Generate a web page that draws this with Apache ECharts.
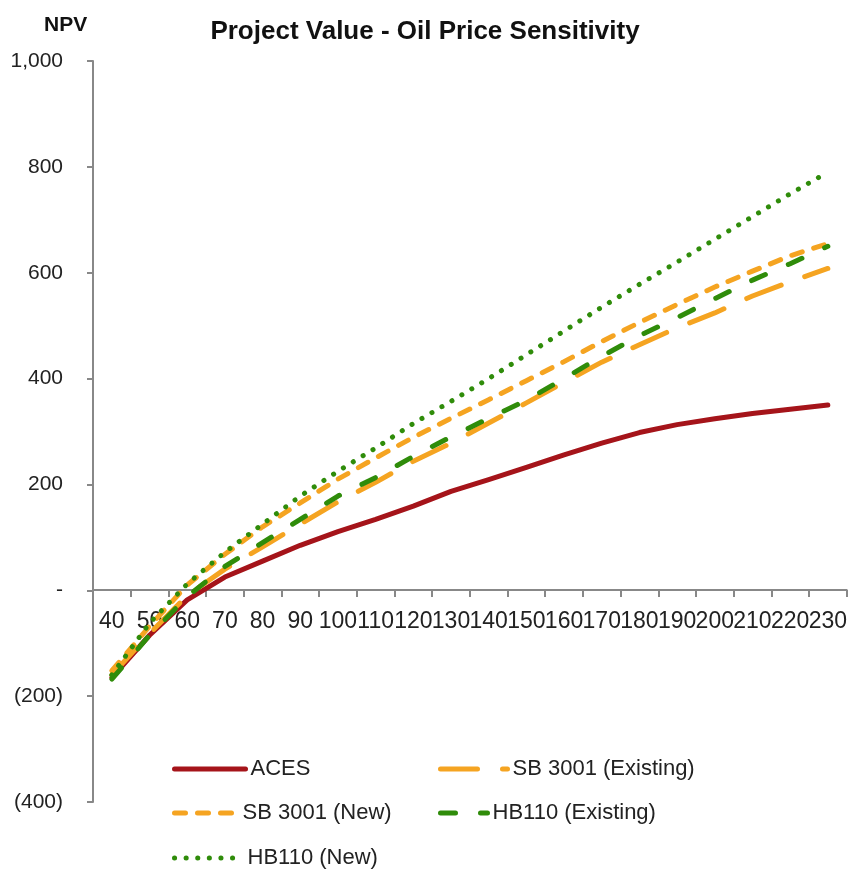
<!DOCTYPE html>
<html>
<head>
<meta charset="utf-8">
<script src="https://cdn.jsdelivr.net/npm/echarts@6/dist/echarts.min.js"></script>
<style>
html,body{margin:0;padding:0;background:#fff;}
#chart{width:850px;height:871px;}
</style>
</head>
<body>
<div id="chart"></div>
<script>
const categories = ['40','50','60','70','80','90','100','110','120','130','140','150','160','170','180','190','200','210','220','230'];
const aces        = [-165,-85,-18,25,55,85,111,134,159,187,209,232,256,278,298,313,324,334,342,350];
const sbExisting  = [-160,-82,-10,40,82,125,167,204,244,278,316,354,393,431,464,496,524,556,583,608];
const sbNew       = [-152,-68,10,68,120,165,210,250,289,325,360,396,432,470,506,540,573,603,632,655];
const hbExisting  = [-168,-85,-12,45,90,134,178,213,253,290,325,359,400,442,481,515,551,586,617,650];
const hbNew       = [-160,-62,12,72,125,178,225,269,315,357,400,445,490,535,578,620,663,706,749,790];
const yTicks = [-400,-200,0,200,400,600,800,1000];

const FONT = '"Liberation Sans",Arial,sans-serif';
const RED = '#A5141A', ORANGE = '#F5A421', GREEN = '#2F8C0A';

function fmt(v){
  if (v === 0) return '-';
  const s = Math.abs(v).toLocaleString('en-US');
  return v < 0 ? '(' + s + ')' : s;
}

const chart = echarts.init(document.getElementById('chart'), null, {renderer:'canvas'});

function mkSeries(name, data, color, type){
  return {
    name: name, type: 'line', data: data, symbol: 'none', showSymbol: false, smooth: false,
    lineStyle: {color: color, width: 5, type: type, cap: 'round', join: 'round'},
    itemStyle: {color: color}
  };
}
function mkLegend(name, left, top, w){
  return {
    data: [name], left: left, top: top, itemWidth: w, itemHeight: 14, itemGap: 0,
    padding: 0,
    textStyle: {fontFamily: FONT, fontSize: 22, color: '#222'},
    itemStyle: {opacity: 0},
    lineStyle: {width: 5, cap: 'round'},
    selectedMode: false
  };
}

chart.setOption({
  animation: false,
  backgroundColor: '#fff',
  title: [
    {text: 'Project Value - Oil Price Sensitivity', left: 'center', top: 14,
     textStyle: {fontFamily: FONT, fontWeight: 'bold', fontSize: 26, color: '#111'}},
    {text: 'NPV', left: 39, top: 10,
     textStyle: {fontFamily: FONT, fontWeight: 'bold', fontSize: 21, color: '#111'}}
  ],
  grid: {left: 93, right: 2, top: 61, bottom: 69, containLabel: false},
  xAxis: {
    type: 'category', data: categories, boundaryGap: true,
    position: 'bottom', offset: -212,
    axisLine: {onZero: false, lineStyle: {color: '#888', width: 2}},
    axisTick: {show: true, interval: 0, length: 7, lineStyle: {color: '#888', width: 2}},
    axisLabel: {interval: 0, margin: 20, fontFamily: FONT, fontSize: 23, color: '#222'},
    splitLine: {show: false}
  },
  yAxis: {
    type: 'value', min: -400, max: 1000, interval: 200,
    axisLine: {show: true, lineStyle: {color: '#888', width: 2}},
    axisTick: {show: true, length: 6, lineStyle: {color: '#888', width: 2}},
    axisLabel: {margin: 30, fontFamily: FONT, fontSize: 21, color: '#222',
      formatter: function(v){ return fmt(v); }},
    splitLine: {show: false}
  },
  legend: [
    mkLegend('ACES', 172, 758, 71),
    mkLegend('SB 3001 (Existing)', 438, 758, 67),
    mkLegend('SB 3001 (New)', 172, 802, 63),
    mkLegend('HB110 (Existing)', 438, 802, 47),
    mkLegend('HB110 (New)', 172, 847, 68)
  ],
  series: [
    mkSeries('ACES', aces, RED, 'solid'),
    mkSeries('SB 3001 (Existing)', sbExisting, ORANGE, [37, 25]),
    mkSeries('SB 3001 (New)', sbNew, ORANGE, [11, 12]),
    mkSeries('HB110 (Existing)', hbExisting, GREEN, [15, 25]),
    mkSeries('HB110 (New)', hbNew, GREEN, [0.1, 11.5])
  ]
});
</script>
</body>
</html>
